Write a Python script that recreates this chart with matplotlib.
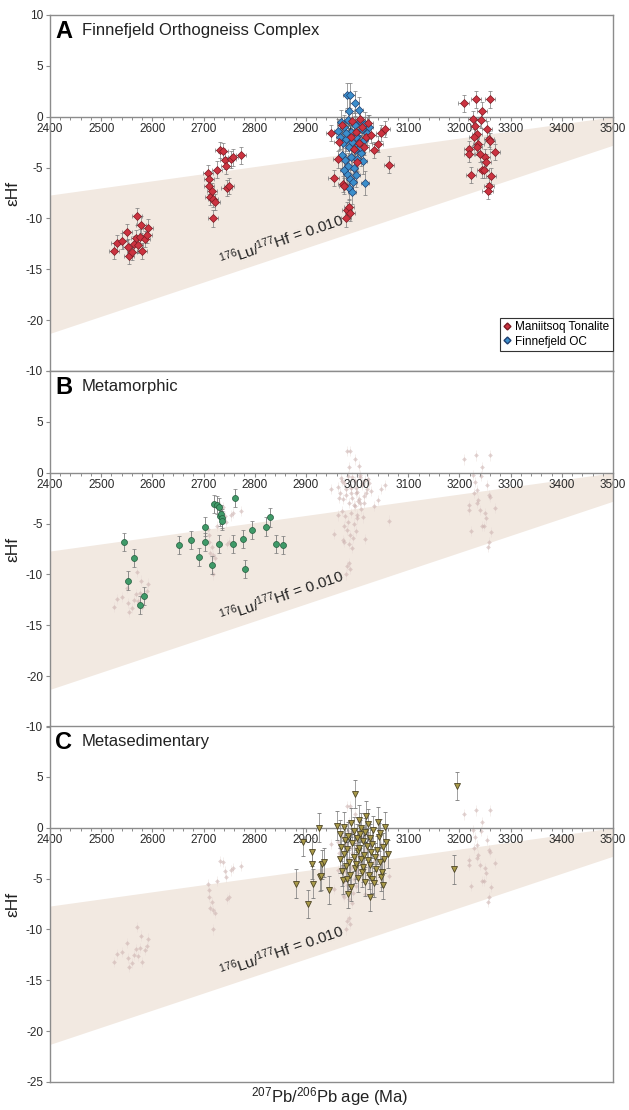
#!/usr/bin/env python3
"""
epsilon-Hf vs 207Pb/206Pb age, three stacked panels (A/B/C) with a
176Lu/177Hf = 0.010 crustal evolution band.
"""
import matplotlib
matplotlib.use("Agg")
import matplotlib.pyplot as plt
from matplotlib.lines import Line2D
from matplotlib.ticker import MultipleLocator, FixedLocator, FixedFormatter

plt.rcParams["font.family"] = ["Liberation Sans", "DejaVu Sans"]
plt.rcParams["mathtext.fontset"] = "custom"
plt.rcParams["mathtext.rm"] = "Liberation Sans"
plt.rcParams["mathtext.it"] = "Liberation Sans:italic"
plt.rcParams["mathtext.bf"] = "Liberation Sans:bold"
plt.rcParams["axes.unicode_minus"] = False

OUTPUT = "out.png"

# --- evolution band (176Lu/177Hf = 0.010) ---
BAND_AGE = [2400, 3500]
BAND_TOP = [-7.7, 0.0]
BAND_BOTTOM = [-21.3, -2.8]

# --- Panel A: Maniitsoq Tonalite ---
MT_AGE = [2525, 2530, 2540, 2550, 2552, 2555, 2560, 2565, 2568, 2570, 2572, 2575,
          2578, 2580, 2585, 2590, 2592,
          2708, 2710, 2711, 2712, 2716, 2718, 2718, 2722, 2726, 2732, 2738, 2742,
          2744, 2745, 2749, 2753, 2757, 2773,
          2949, 2954, 2962, 2965, 2970, 2972, 2975, 2978, 2980, 2984, 2986, 2988,
          2990, 2993, 2997, 3000, 3003, 3006, 3010, 3014, 3018, 3022, 3027, 3033,
          3040, 3047, 3055, 3063,
          3208, 3218, 3219, 3222, 3226, 3230, 3232, 3234, 3237, 3240, 3242, 3244,
          3244, 3248, 3250, 3252, 3254, 3257, 3259, 3260, 3262, 3258, 3255, 3270,
          3228, 3235]
MT_EHF = [-13.2, -12.4, -12.2, -11.3, -12.8, -13.7, -13.3, -12.5, -11.9, -9.8, -12.6, -11.8,
          -10.6, -13.2, -12.0, -11.6, -10.9,
          -5.5, -6.1, -6.8, -7.9, -7.3, -8.1, -10.0, -8.4, -5.2, -3.3, -3.4, -4.3,
          -4.8, -7.0, -6.8, -4.2, -4.0, -3.8,
          -1.6, -6.0, -4.2, -2.5, -0.8, -6.6, -6.8, -10.0, -9.2, -8.9, -9.5, -2.0,
          -0.4, -3.2, -1.5, -4.5, -2.6, -0.2, -1.0, -3.0, -2.0, -0.6, -1.8, -3.3,
          -2.7, -1.6, -1.2, -4.7,
          1.3, -3.2, -3.7, -5.7, -0.2, -0.9, 1.7, -1.7, -2.7, -3.7, -0.3, -5.2,
          0.6, -5.2, -4.0, -4.5, -1.2, -2.2, -2.4, 1.7, -5.8, -6.8, -7.3, -3.5,
          -2.0, -3.0]
MT_AGE_ERR = 10
MT_EHF_ERR = 0.8

# --- Panel A: Finnefjeld OC ---
FOC_AGE = [2980, 2987, 2995, 2985, 3003, 2968, 2975, 2982, 2988, 2995, 3000, 3005,
           3010, 3015, 2966, 2972, 2978, 2984, 2990, 2996, 3002, 3008, 3013, 3020,
           2970, 2976, 2982, 2988, 2994, 3000, 2980, 2986, 2974, 2992, 2984, 2990,
           2998, 3016, 3024, 2962, 3006, 3012, 2979, 2997]
FOC_EHF = [2.1, 2.1, 1.3, 0.6, 0.7, -0.5, -1.0, -0.3, -1.5, -0.8, -1.9, -0.4,
           -1.2, -0.7, -2.0, -2.6, -2.2, -3.0, -2.5, -3.3, -2.8, -3.6, -2.3, -1.6,
           -3.8, -4.3, -4.8, -4.0, -5.0, -4.2, -5.6, -6.1, -5.2, -6.4, -7.0, -7.4,
           -5.7, -6.5, -1.0, -1.4, -3.0, -4.4, -1.6, -2.0]
FOC_AGE_ERR = 8
FOC_EHF_ERR = 1.2

# --- Panel B: metamorphic zircon ---
MET_AGE = [2544, 2553, 2565, 2576, 2583, 2652, 2676, 2692, 2702, 2703, 2716, 2720,
           2726, 2731, 2732, 2734, 2736, 2737, 2731, 2757, 2761, 2777, 2781, 2795,
           2822, 2830, 2842, 2855]
MET_EHF = [-6.8, -10.6, -8.4, -13.0, -12.1, -7.1, -6.6, -8.3, -5.3, -6.8, -9.1, -3.1,
           -3.2, -3.4, -4.3, -4.1, -4.5, -4.7, -7.0, -7.0, -2.5, -6.5, -9.5, -5.6,
           -5.3, -4.4, -7.0, -7.1]
MET_EHF_ERR = 0.9

# --- Panel C: metasedimentary detrital zircon ---
SED_AGE = [2880, 2894, 2904, 2911, 2912, 2913, 2926, 2927, 2930, 2932, 2935, 2946,
           2960, 2973, 2983, 2995, 3026, 3051, 3190, 3196,
           2966, 2969, 2967, 2970, 2974, 2977, 2975, 2978, 2981, 2983, 2980, 2984,
           2986, 2989, 2988, 2991, 2994, 2996, 2993, 2999, 3001, 2998, 3002, 3004,
           3006, 3003, 3008, 3010, 3007, 3012, 3014, 3011, 3016, 3018, 3015, 3019,
           3021, 3024, 3022, 3026, 3028, 3025, 3030, 3032, 3029, 3035, 3037, 3034,
           3040, 3042, 3039, 3045, 3047, 3044, 3050, 3052, 3049, 3055, 3057, 3060]
SED_EHF = [-5.5, -1.4, -7.5, -3.6, -2.4, -5.5, 0.0, -4.8, -4.7, -3.6, -3.4, -6.1,
           0.2, -5.1, -6.5, 3.3, -6.8, -5.6, -4.1, 4.1,
           -0.6, -1.9, -3.1, -4.3, 0.1, -1.2, -2.6, -3.8, -5.0, -0.8, -2.1, -3.4,
           -4.6, -5.8, 0.5, -1.5, -2.9, -4.0, -0.3, -1.0, -2.3, -3.6, -4.9, 0.8,
           -0.6, -2.0, -3.1, -4.4, 0.0, -1.3, -2.7, -3.9, -5.3, 1.2, -0.4, -1.8,
           -3.2, -4.6, 0.4, -1.0, -2.4, -3.7, -5.0, -0.2, -1.6, -2.9, -4.1, -5.4,
           0.6, -0.9, -2.2, -3.4, -4.8, -0.5, -1.9, -3.1, -4.4, 0.1, -1.4, -2.6]
SED_EHF_ERR = 1.4

XLIM = (2400, 3500)
YLIM = (-25, 10)

PANEL_LETTERS = ["A", "B", "C"]
PANEL_TITLES = ["Finnefjeld Orthogneiss Complex", "Metamorphic", "Metasedimentary"]
YTICKS = [10, 5, 0, -5, -10, -15, -20, -25]
YTICKLABELS = [
    ["10", "5", "0", "-5", "-10", "-15", "-20", "-10"],
    ["", "5", "0", "-5", "-10", "-15", "-20", "-10"],
    ["", "5", "0", "-5", "-10", "-15", "-20", "-25"],
]

GRAY = "#8c8c8c"
BAND = "#f2e9e1"
RED, RED_EDGE = "#cc3340", "#7a1a22"
BLUE, BLUE_EDGE = "#3c8fcc", "#1f3f70"
GREEN, GREEN_EDGE = "#3f9a68", "#245c3d"
OLIVE, OLIVE_EDGE = "#a99a48", "#4d4526"
GHOST = "#cbb0ae"
ERR = "#7a7a7a"


def style_axis(ax, i):
    ax.set_xlim(*XLIM)
    ax.set_ylim(*YLIM)
    ax.fill_between(BAND_AGE, BAND_BOTTOM, BAND_TOP, color=BAND, lw=0, zorder=0)

    for side in ["left", "right", "top", "bottom"]:
        ax.spines[side].set_color(GRAY)
        ax.spines[side].set_linewidth(1.0)
    ax.spines["bottom"].set_position(("data", 0))
    ax.axhline(YLIM[0], color=GRAY, lw=1.0, zorder=2.5, clip_on=False)

    ax.xaxis.set_major_locator(MultipleLocator(100))
    ax.xaxis.set_minor_locator(MultipleLocator(20))
    ax.tick_params(axis="x", which="major", length=3, width=0.8, color=GRAY,
                   labelsize=8.5, pad=1.5, labelcolor="#2a2a2a")
    ax.tick_params(axis="x", which="minor", length=2.5, width=0.7, color=GRAY)
    ax.yaxis.set_major_locator(FixedLocator(YTICKS))
    ax.yaxis.set_major_formatter(FixedFormatter(YTICKLABELS[i]))
    ax.tick_params(axis="y", length=3, width=0.8, color=GRAY, labelsize=8.5,
                   pad=2, labelcolor="#2a2a2a")

    ax.set_ylabel("εHf", fontsize=12.5, color="#222222")
    ax.yaxis.set_label_coords(-0.052, 0.5)

    ax.text(0.009, 0.985, PANEL_LETTERS[i], transform=ax.transAxes,
            fontsize=17, fontweight="bold", va="top", ha="left")
    ax.text(0.057, 0.978, PANEL_TITLES[i], transform=ax.transAxes,
            fontsize=12, va="top", ha="left", color="#222222")
    ax.text(2853, -12.1, r"$^{176}$Lu/$^{177}$Hf = 0.010", fontsize=11,
            rotation=19, rotation_mode="anchor", ha="center", va="center",
            color="#222222", zorder=1)


def draw_ghosts(ax):
    for age, ehf in [(MT_AGE, MT_EHF), (FOC_AGE, FOC_EHF)]:
        ax.errorbar(age, ehf, yerr=0.5, fmt="D", ms=2.4, mfc=GHOST, mec="none",
                    ecolor="#e6d9d5", elinewidth=0.5, capsize=0, alpha=0.55,
                    zorder=1)


def main():
    fig = plt.figure(figsize=(6.29, 11.10), dpi=100)
    left, width = 50 / 629, 563 / 629
    bottoms = [1 - 371 / 1110, 1 - 727 / 1110, 1 - 1082 / 1110]
    height = 356 / 1110
    axes = [fig.add_axes([left, b, width, height]) for b in bottoms]

    for i, ax in enumerate(axes):
        style_axis(ax, i)

    # Panel A
    ax = axes[0]
    ax.errorbar(FOC_AGE, FOC_EHF, xerr=FOC_AGE_ERR, yerr=FOC_EHF_ERR, fmt="D",
                ms=3.6, mfc=BLUE, mec=BLUE_EDGE, mew=0.5, ecolor=ERR,
                elinewidth=0.5, capsize=1.2, zorder=3)
    ax.errorbar(MT_AGE, MT_EHF, xerr=MT_AGE_ERR, yerr=MT_EHF_ERR, fmt="D",
                ms=3.6, mfc=RED, mec=RED_EDGE, mew=0.5, ecolor=ERR,
                elinewidth=0.5, capsize=1.2, zorder=3)
    handles = [
        Line2D([], [], marker="D", ls="none", ms=3.5, mfc=RED, mec=RED_EDGE,
               label="Maniitsoq Tonalite"),
        Line2D([], [], marker="D", ls="none", ms=3.5, mfc=BLUE, mec=BLUE_EDGE,
               label="Finnefjeld OC"),
    ]
    leg = ax.legend(handles=handles, loc="lower right", bbox_to_anchor=(1.0, 0.056),
                    borderaxespad=0, fontsize=8.5, frameon=True, fancybox=False,
                    framealpha=1, edgecolor="#333333", handlelength=0.6,
                    handletextpad=0.4, borderpad=0.3, labelspacing=0.2)
    leg.get_frame().set_linewidth(0.8)

    # Panel B
    ax = axes[1]
    draw_ghosts(ax)
    ax.errorbar(MET_AGE, MET_EHF, yerr=MET_EHF_ERR, fmt="o", ms=4.3, mfc=GREEN,
                mec=GREEN_EDGE, mew=0.5, ecolor=ERR, elinewidth=0.6,
                capsize=1.5, zorder=3)

    # Panel C
    ax = axes[2]
    draw_ghosts(ax)
    ax.errorbar(SED_AGE, SED_EHF, yerr=SED_EHF_ERR, fmt="v", ms=4.3, mfc=OLIVE,
                mec=OLIVE_EDGE, mew=0.6, ecolor=ERR, elinewidth=0.5,
                capsize=1.5, zorder=3)

    fig.text(330 / 629, 1 - 1097 / 1110, r"$^{207}$Pb/$^{206}$Pb age (Ma)",
             fontsize=12, ha="center", va="center", color="#222222")

    fig.savefig(OUTPUT, dpi=100)
    plt.close(fig)


if __name__ == "__main__":
    main()
